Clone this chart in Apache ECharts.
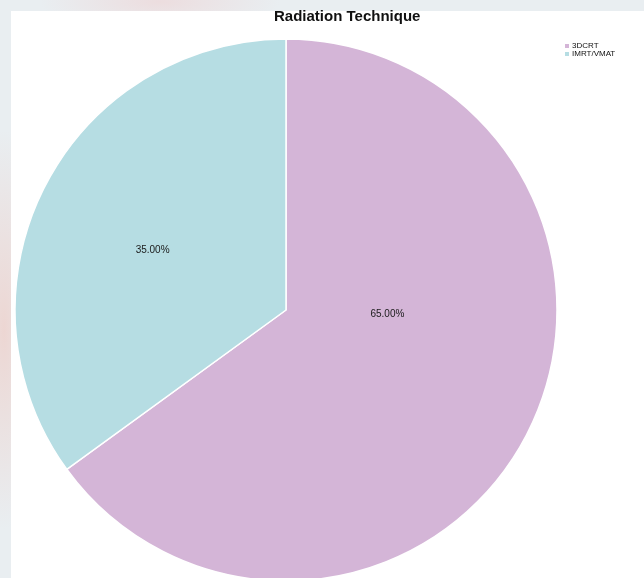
<!DOCTYPE html>
<html>
<head>
<meta charset="utf-8">
<script src="https://cdn.jsdelivr.net/npm/echarts@6/dist/echarts.min.js"></script>
<style>
  html, body { margin: 0; padding: 0; width: 644px; height: 578px; overflow: hidden;
    background: #e9eef1; }
  #bg { position: absolute; left: 0; top: 0; width: 644px; height: 578px;
    background: radial-gradient(ellipse 40px 200px at 4px 330px, rgba(240,190,180,0.5), rgba(233,238,241,0) 100%),
                radial-gradient(ellipse 120px 30px at 160px 2px, rgba(240,200,200,0.45), rgba(233,238,241,0) 100%); }
  #panel { position: absolute; left: 11px; top: 11px; width: 633px; height: 567px; background: #ffffff; }
  #chart { position: absolute; left: 0; top: 0; width: 644px; height: 578px; }
</style>
</head>
<body>
<div id="bg"></div>
<div id="panel"></div>
<div id="chart"></div>
<script>
const chartTitle = 'Radiation Technique';
const categories = ['3DCRT', 'IMRT/VMAT'];
const values = [65, 35];

const sliceColors = ['#d4b5d7', '#b6dde3'];
const labelOffsets = [[-22, -59], [-10, 3]];

const chart = echarts.init(document.getElementById('chart'), null, { renderer: 'canvas' });
chart.setOption({
  backgroundColor: 'transparent',
  animation: false,
  title: {
    text: chartTitle,
    left: 269, top: 4,
    textStyle: { fontFamily: 'Liberation Sans', fontWeight: 'bold', fontSize: 15, color: '#111' }
  },
  legend: {
    orient: 'vertical',
    left: 558, top: 37,
    itemWidth: 6, itemHeight: 6, itemGap: 0,
    icon: 'rect',
    textStyle: { fontFamily: 'Liberation Sans', fontSize: 8, color: '#111', padding: [0, 0, 0, -3] },
    data: categories
  },
  series: [{
    type: 'pie',
    center: [286, 310],
    radius: 271,
    startAngle: 90,
    clockwise: true,
    itemStyle: { borderColor: '#ffffff', borderWidth: 1.5 },
    label: {
      show: true, position: 'inside',
      fontFamily: 'Liberation Sans', fontSize: 10, color: '#1a1a1a',
      formatter: p => p.percent.toFixed(2) + '%'
    },
    labelLine: { show: false },
    emphasis: { disabled: true },
    data: categories.map((c, i) => ({
      name: c, value: values[i],
      itemStyle: { color: sliceColors[i] },
      label: { offset: labelOffsets[i] }
    }))
  }]
});
</script>
</body>
</html>
